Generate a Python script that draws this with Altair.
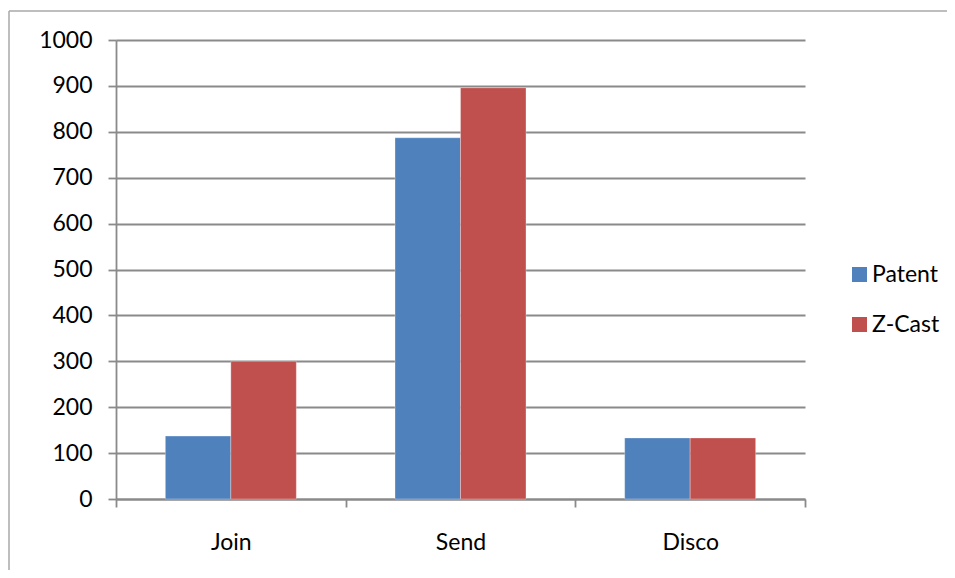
import altair as alt
import pandas as pd

categories = ["Join", "Send", "Disco"]
series = ["Patent", "Z-Cast"]
patent_values = [137, 787, 133]
zcast_values = [300, 896, 133]
colors = ["#4F81BD", "#C0504D"]

rows = []
for i, c in enumerate(categories):
    rows.append({"cat": c, "series": "Patent", "value": patent_values[i]})
    rows.append({"cat": c, "series": "Z-Cast", "value": zcast_values[i]})
df = pd.DataFrame(rows)

FONT = "Lato"
GRAY = "#8a8a8a"

bars = alt.Chart(df).mark_bar(stroke="white", strokeWidth=0.6, strokeOpacity=0.5).encode(
    x=alt.X("cat:N", sort=categories, title=None,
            scale=alt.Scale(paddingInner=0, paddingOuter=0),
            axis=alt.Axis(labelAngle=0, tickBand="extent", labelFontSize=23, labelFont=FONT,
                          labelColor="black", labelPadding=24, tickSize=8, tickColor=GRAY,
                          tickWidth=1.8, domainColor=GRAY, domainWidth=1.8, grid=False)),
    xOffset=alt.XOffset("series:N", sort=series,
                        scale=alt.Scale(paddingInner=0, paddingOuter=0.7535)),
    y=alt.Y("value:Q", title=None,
            scale=alt.Scale(domain=[0, 1000], nice=False),
            axis=alt.Axis(values=list(range(0, 1001, 100)), format="d", labelFontSize=23,
                          labelFont=FONT, labelColor="black", labelPadding=16, tickSize=8,
                          tickColor=GRAY, tickWidth=1.8, domainColor=GRAY, domainWidth=1.8,
                          gridColor=GRAY, gridWidth=1.8)),
    color=alt.Color("series:N", sort=series,
                    scale=alt.Scale(domain=series, range=colors),
                    legend=alt.Legend(title=None, orient="none", legendX=732, legendY=223,
                                      symbolType="square", symbolSize=225, symbolStrokeWidth=0,
                                      labelFontSize=23, labelFont=FONT, labelColor="black",
                                      rowPadding=26, labelOffset=1)),
)

frame_top = alt.Chart(alt.Data(values=[{}])).mark_rule(
    stroke="#a8a8a8", strokeWidth=1.5
).encode(x=alt.value(-107), x2=alt.value(831), y=alt.value(-29))

frame_left = alt.Chart(alt.Data(values=[{}])).mark_rule(
    stroke="#a8a8a8", strokeWidth=1.5
).encode(x=alt.value(-107), y=alt.value(-29), y2=alt.value(530))

chart = alt.layer(frame_top, frame_left, bars).properties(
    width=689, height=459,
    autosize=alt.AutoSizeParams(type="none"),
    padding={"left": 108, "top": 32, "right": 142, "bottom": 71},
).configure_view(strokeWidth=0)

chart.save("out.html", embed_options={"renderer": "svg", "actions": False})
